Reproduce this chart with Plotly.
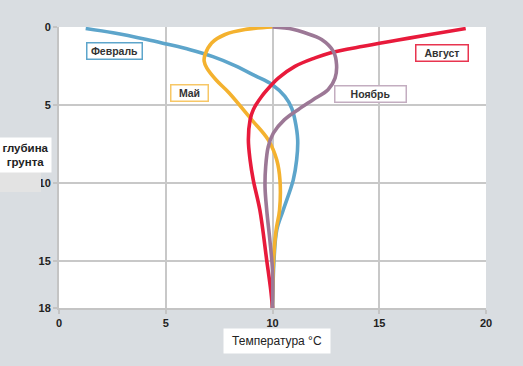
import plotly.graph_objects as go

# ---- data ----
feb_depth = [0.1, 0.37, 0.8, 1.09, 1.45, 1.9, 2.47, 3.12, 3.7, 4.45, 5.2, 5.95, 7.23, 8.52, 9.81, 11.74, 13.0, 14.95, 18.0]
feb_temp = [1.25, 2.53, 4.11, 5.04, 6.14, 7.21, 8.24, 9.18, 9.99, 10.58, 10.9, 11.05, 11.18, 11.13, 10.97, 10.5, 10.2, 10.07, 10.0]

may_depth = [0, 0.16, 0.48, 1.02, 1.77, 2.2, 2.62, 3.38, 4.21, 5.95, 7.23, 8.52, 9.81, 11.74, 13.0, 14.95, 18.0]
may_temp = [10.0, 8.71, 7.78, 7.15, 6.84, 6.8, 6.92, 7.35, 7.96, 9.03, 9.8, 10.2, 10.35, 10.33, 10.17, 10.05, 10.0]

aug_depth = [0.1, 0.48, 0.85, 1.23, 1.66, 1.98, 2.52, 3.27, 3.7, 4.45, 5.3, 5.95, 7.23, 8.52, 9.81, 11.74, 14.95, 16.88, 18.0]
aug_temp = [19.05, 17.38, 15.82, 14.25, 12.69, 11.99, 11.05, 10.27, 9.96, 9.49, 9.1, 8.95, 8.87, 8.95, 9.1, 9.41, 9.73, 9.92, 10.0]

nov_depth = [0, 0.14, 0.37, 0.8, 1.56, 2.41, 3.27, 4.02, 4.66, 5.3, 5.95, 6.8, 7.67, 8.95, 10.24, 11.74, 13.7, 15.6, 18.0]
nov_temp = [10.0, 10.95, 11.52, 12.3, 12.85, 13.0, 12.93, 12.6, 11.9, 11.2, 10.55, 10.04, 9.8, 9.68, 9.65, 9.73, 9.88, 10.0, 10.0]

series_names = ["Февраль", "Май", "Август", "Ноябрь"]
x_ticks = [0, 5, 10, 15, 20]
y_ticks = [0, 5, 10, 15, 18]

colors = ["#5da5cb", "#f4b22f", "#e81a3b", "#9c7896"]
box_colors = ["#5da5cb", "#f7c766", "#e8344f", "#c3adc0"]

fig = go.Figure()
for name, d, t, c in zip(series_names,
                         [feb_depth, may_depth, aug_depth, nov_depth],
                         [feb_temp, may_temp, aug_temp, nov_temp], colors):
    fig.add_trace(go.Scatter(x=t, y=d, mode="lines", name=name,
                             line=dict(color=c, width=3.6, shape="spline", smoothing=1.0),
                             showlegend=False, hoverinfo="skip"))

L, R, T, B = 59, 486, 27.5, 307.5
W, H = R - L, B - T


def px(x):
    return (x - L) / W


def py(y):
    return (B - y) / H


bg = "#d9dde1"
fig.update_layout(
    width=523, height=366,
    margin=dict(l=59, r=37, t=27, b=58),
    paper_bgcolor=bg, plot_bgcolor="white",
    font=dict(family="Liberation Sans, Arial, sans-serif", color="#222"),
)
fig.update_xaxes(range=[0, 20], tickvals=x_ticks, showgrid=True, gridcolor="#c8c8c8", gridwidth=1.5,
                 showline=True, linecolor="#c4c4c4", linewidth=2, ticks="outside", ticklen=4,
                 tickcolor="#c4c4c4", tickwidth=1.5, zeroline=False,
                 tickfont=dict(size=11, weight="bold", color="#222"))
fig.update_yaxes(range=[18, 0], tickvals=y_ticks, showgrid=True, gridcolor="#c8c8c8", gridwidth=1.5,
                 showline=True, linecolor="#c4c4c4", linewidth=2, ticks="outside", ticklen=4,
                 tickcolor="#c4c4c4", tickwidth=1.5, zeroline=False,
                 tickfont=dict(size=11, weight="bold", color="#222"))

# gray patch partially covering a tick label (as in reference)
fig.add_shape(type="rect", xref="paper", yref="paper",
              x0=px(0), x1=px(41), y0=py(192), y1=py(172),
              fillcolor="#e3e3e3", line=dict(width=0), layer="above")

# series labels
label_pos = [(2.6, 1.52), (6.11, 4.23), (17.93, 1.64), (14.6, 4.26)]
label_w = [54, 36, 51, 70]
for name, (lx, ly), bc, w in zip(series_names, label_pos, box_colors, label_w):
    fig.add_annotation(x=lx, y=ly, xref="x", yref="y", text=name, showarrow=False,
                       font=dict(size=10.5, color="#333", weight="bold"),
                       bgcolor="white", bordercolor=bc, borderwidth=1.5, borderpad=0,
                       width=w, height=15)

# axis titles
fig.add_annotation(x=px(25.5), y=py(155), xref="paper", yref="paper",
                   text="глубина<br>грунта", showarrow=False, xanchor="center", yanchor="middle",
                   font=dict(size=11.5, color="#222", weight="bold"),
                   bgcolor="white", borderpad=1, width=49, height=32)
fig.add_annotation(x=px(277), y=py(340.5), xref="paper", yref="paper",
                   text="Температура °C", showarrow=False, xanchor="center", yanchor="middle",
                   font=dict(size=12, color="#222"),
                   bgcolor="white", borderpad=1, width=104, height=22)

fig.write_html("out.html", config={"displayModeBar": False},
               post_script="document.body.style.margin='0';")
